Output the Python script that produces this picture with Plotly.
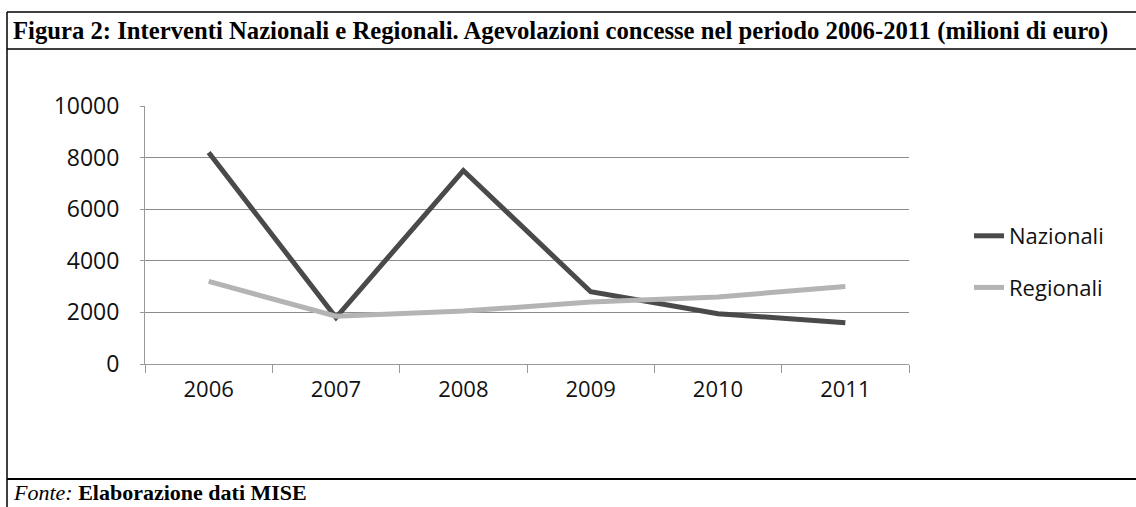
import plotly.graph_objects as go

years = ["2006", "2007", "2008", "2009", "2010", "2011"]
nazionali = [8200, 1800, 7500, 2800, 1950, 1600]
regionali = [3200, 1850, 2050, 2400, 2600, 3000]
y_ticks = [0, 2000, 4000, 6000, 8000, 10000]
y_tick_text = ["0", "2000", "4000", "6000", "8000", "10000"]

W, H = 1136, 507
L, R, T, B = 145, 909, 106, 364

def px(x):
    return (x - L) / (R - L)

def py(y):
    return (B - y) / (B - T)

fig = go.Figure()
fig.add_trace(go.Scatter(x=years, y=nazionali, mode="lines", name="Nazionali",
                         line=dict(color="#4a4a4a", width=5), legendgroup="a"))
fig.add_trace(go.Scatter(x=years, y=regionali, mode="lines", name="Regionali",
                         line=dict(color="#b4b4b4", width=5), legendgroup="b"))

shapes = []
def seg(x0, y0, x1, y1, color="#000", w=1.5):
    shapes.append(dict(type="line", xref="paper", yref="paper",
                       x0=px(x0), y0=py(y0), x1=px(x1), y1=py(y1),
                       line=dict(color=color, width=w)))

seg(7, 12, 1136, 12)
seg(7, 49, 1136, 49)
seg(7, 479, 1136, 479, w=2)
seg(7, 12, 7, 507)

annotations = [
    dict(text="<b>Figura 2: Interventi Nazionali e Regionali. Agevolazioni concesse nel periodo 2006-2011 (milioni di euro)</b>",
         xref="paper", yref="paper", x=px(11), y=py(31), xanchor="left", yanchor="middle",
         showarrow=False, font=dict(family="Liberation Serif", size=24.7, color="#000")),
    dict(text="<i>Fonte:</i> <b>Elaborazione dati MISE</b>",
         xref="paper", yref="paper", x=px(11), y=py(492), xanchor="left", yanchor="middle",
         showarrow=False, font=dict(family="Liberation Serif", size=22, color="#000")),
]

fig.update_layout(
    width=W, height=H,
    margin=dict(l=L, r=W - R, t=T, b=H - B, pad=0, autoexpand=False),
    paper_bgcolor="white", plot_bgcolor="white",
    font=dict(family="Open Sans", size=22, color="#111"),
    showlegend=True,
    legend=dict(x=px(969), y=py(215), xanchor="left", yanchor="top",
                font=dict(family="Open Sans", size=22, color="#111"),
                tracegroupgap=20, bgcolor="rgba(0,0,0,0)"),
    shapes=shapes,
    annotations=annotations,
)
fig.update_xaxes(type="category", categoryorder="array", categoryarray=years,
                 range=[-0.5, 5.5], automargin=False,
                 tickson="boundaries", ticks="outside", ticklen=8, tickcolor="#999",
                 ticklabelstandoff=6,
                 showline=True, linecolor="#999", linewidth=1, showgrid=False,
                 tickfont=dict(family="Open Sans", size=22, color="#111"))
fig.update_yaxes(range=[0, 10000], tickvals=y_ticks, ticktext=y_tick_text,
                 automargin=False, ticks="outside", ticklen=4, ticklabelstandoff=16,
                 tickcolor="#999", showline=True, linecolor="#999", linewidth=1,
                 showgrid=True, gridcolor="#8c8c8c", gridwidth=1, zeroline=False,
                 tickfont=dict(family="Open Sans", size=23, color="#111"))

fig.write_html("out.html", config={"displayModeBar": False},
               post_script="document.body.style.margin='0';document.body.style.padding='0';")
